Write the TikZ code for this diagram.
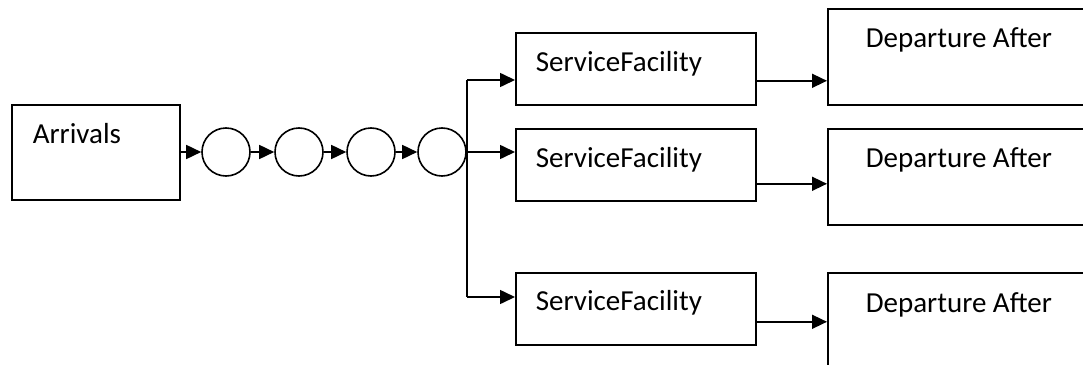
\documentclass[tikz,border=0pt]{standalone}
\usepackage{fontspec}
\setmainfont{Carlito}
\usetikzlibrary{arrows.meta}
\begin{document}
\begin{tikzpicture}[x=1pt,y=-1pt,
  line width=1.6pt,
  box/.style={draw,line width=1.6pt,rectangle,inner sep=0pt,anchor=north west},
  queue/.style={draw,line width=1.6pt,circle,inner sep=0pt,minimum size=48pt},
  lbl/.style={anchor=base west,inner sep=0pt,font=\fontsize{29}{34}\selectfont},
  flow/.style={-{Triangle[length=15pt,width=14pt]},line width=1.6pt}]
\useasboundingbox (0,0) rectangle (1083,364);
\clip (0,0) rectangle (1083,364);

% arrivals source
\node[box,minimum width=168pt,minimum height=95pt] (arr) at (11,104) {};
\node[lbl] (arrT) at (32,143) {Arrivals};

% waiting line
\node[queue] (q1) at (226,152) {};
\node[queue] (q2) at (299,152) {};
\node[queue] (q3) at (371,152) {};
\node[queue] (q4) at (442,152) {};
\draw[flow] (arr.east |- q1) -- (q1.west);
\draw[flow] (q1.east) -- (q2.west);
\draw[flow] (q2.east) -- (q3.west);
\draw[flow] (q3.east) -- (q4.west);

% service channels
\node[box,minimum width=240pt,minimum height=72pt] (sf1) at (515,32) {};
\node[box,minimum width=240pt,minimum height=72pt] (sf2) at (515,128) {};
\node[box,minimum width=240pt,minimum height=72pt] (sf3) at (515,272) {};
\node[lbl] (sf1T) at (535,71) {ServiceFacility};
\node[lbl] (sf2T) at (535,167) {ServiceFacility};
\node[lbl] (sf3T) at (535,310) {ServiceFacility};

% departures
\node[box,minimum width=290pt,minimum height=96pt] (dep1) at (827,8) {};
\node[box,minimum width=290pt,minimum height=96pt] (dep2) at (827,128) {};
\node[box,minimum width=290pt,minimum height=120pt] (dep3) at (827,272) {};
\node[lbl] (dep1T) at (865,47) {Departure After};
\node[lbl] (dep2T) at (865,167) {Departure After};
\node[lbl] (dep3T) at (865,312) {Departure After};

% fork to the channels
\coordinate (b1) at (467,80);
\coordinate (b3) at (467,297);
\draw (b1) -- (b3);
\draw[flow] (b1) -- (b1 -| sf1.west);
\draw[flow] (q4.east) -- (q4.east -| sf2.west);
\draw[flow] (b3) -- (b3 -| sf3.west);

% channels to departures
\draw[flow] ([yshift=-12pt]sf1.east) -- ([yshift=-12pt]sf1.east -| dep1.west);
\draw[flow] ([yshift=-19pt]sf2.east) -- ([yshift=-19pt]sf2.east -| dep2.west);
\draw[flow] ([yshift=-13pt]sf3.east) -- ([yshift=-13pt]sf3.east -| dep3.west);
\end{tikzpicture}
\end{document}
